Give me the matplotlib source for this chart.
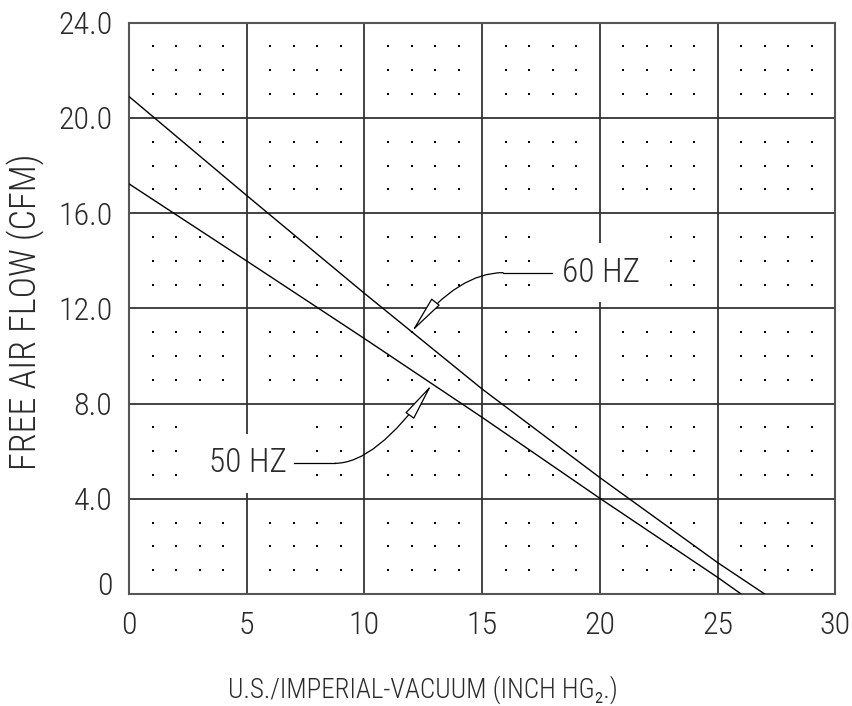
import matplotlib
matplotlib.use("Agg")
import matplotlib.pyplot as plt
from matplotlib import font_manager as fm
from matplotlib.transforms import ScaledTranslation

# ---------------- data ----------------
vac_60 = [0, 5, 10, 15, 20, 25, 27]
flow_60 = [20.9, 16.74, 12.63, 8.61, 4.89, 1.32, 0.0]
vac_50 = [0, 5, 10, 15, 20, 25, 26]
flow_50 = [17.23, 13.99, 10.73, 7.42, 4.02, 0.70, 0.0]

x_ticks = [0, 5, 10, 15, 20, 25, 30]
x_tick_labels = ["0", "5", "10", "15", "20", "25", "30"]
y_ticks = [0, 4, 8, 12, 16, 20, 24]
y_tick_labels = ["0", "4.0", "8.0", "12.0", "16.0", "20.0", "24.0"]

label_60 = "60 HZ"
label_50 = "50 HZ"
xlabel = "U.S./IMPERIAL-VACUUM (INCH HG\u2082.)"
ylabel = "FREE AIR FLOW (CFM)"

# ---------------- font selection ----------------
def pick_font():
    prefs = ["Roboto Condensed", "DejaVu Sans", "Roboto", "Lato", "Open Sans", "Inter", "Noto Sans"]
    def wnum(w):
        if isinstance(w, (int, float)):
            return w
        return {"ultralight": 200, "light": 300, "normal": 400, "regular": 400}.get(str(w).lower(), 400)
    for name in prefs:
        for f in fm.fontManager.ttflist:
            if f.name == name and f.style == "normal" and 200 <= wnum(f.weight) <= 300:
                return f.fname
    return None

fpath = pick_font()
def fp(size):
    if fpath:
        return fm.FontProperties(fname=fpath, size=size)
    return fm.FontProperties(family="DejaVu Sans", size=size)

TXT = "#2a2a2a"

# ---------------- figure ----------------
fig = plt.figure(figsize=(8.53, 7.06), dpi=100)
ax = fig.add_axes([0.1512, 0.1586, 0.9793 - 0.1512, 0.9679 - 0.1586])
ax.set_xlim(0, 30)
ax.set_ylim(0, 24)

# grid with gaps behind labels
vgaps = {5: (4.26, 6.71), 20: (12.26, 14.76)}
for xv in [5, 10, 15, 20, 25]:
    if xv in vgaps:
        g0, g1 = vgaps[xv]
        ax.vlines(xv, 0, g0, color="#222222", lw=1.2, zorder=1)
        ax.vlines(xv, g1, 24, color="#222222", lw=1.2, zorder=1)
    else:
        ax.vlines(xv, 0, 24, color="#222222", lw=1.2, zorder=1)
for yv in [4, 8, 12, 16, 20]:
    ax.hlines(yv, 0, 30, color="#333333", lw=1.3, zorder=1)

# dots
excl = [((2.5, 7.5), (4.5, 7.5)), ((17.5, 22.5), (12.5, 15.5))]
dx, dy = [], []
for xi in range(31):
    if xi % 5 == 0:
        continue
    for yi in range(25):
        if yi % 4 == 0:
            continue
        skip = any(a[0] < xi < a[1] and b[0] < yi < b[1] for a, b in excl)
        if not skip:
            dx.append(xi)
            dy.append(yi)
ax.scatter(dx, dy, s=2.5, c="black", marker="s", linewidths=0, zorder=2)

# curves
ax.plot(vac_60, flow_60, color="black", lw=1.0, zorder=3, solid_joinstyle="round")
ax.plot(vac_50, flow_50, color="black", lw=1.0, zorder=3, solid_joinstyle="round")

for s in ax.spines.values():
    s.set_color("#555555")
    s.set_linewidth(1.5)

# ticks
ax.set_xticks(x_ticks)
ax.set_xticklabels(x_tick_labels)
ax.set_yticks(y_ticks)
ax.set_yticklabels(y_tick_labels)
ax.tick_params(length=0, colors=TXT)
ax.tick_params(axis="x", pad=12)
ax.tick_params(axis="y", pad=12)
for lab in ax.get_xticklabels() + ax.get_yticklabels():
    lab.set_fontproperties(fp(23))
    lab.set_color(TXT)
ylabs = ax.get_yticklabels()
ylabs[0].set_transform(ylabs[0].get_transform() + ScaledTranslation(0, 11 / 100, fig.dpi_scale_trans))

# axis labels
ax.text(0.140, -0.168, xlabel, transform=ax.transAxes, ha="left", va="center",
        fontproperties=fp(19.5), color=TXT)
ax.text(-0.146, 0.494, ylabel, transform=ax.transAxes, ha="center", va="center",
        rotation=90, fontproperties=fp(26), color=TXT)

# annotations
arrow_kw = dict(arrowstyle="-|>,head_length=2.4,head_width=0.34", fc="white", ec="black",
                lw=0.9, shrinkA=0, shrinkB=0, mutation_scale=10)

# 60 HZ
ax.text(18.38, 13.5, label_60, ha="left", va="center", fontproperties=fp(24), color=TXT, zorder=5)
ax.plot([17.95, 15.89], [13.5, 13.5], color="black", lw=0.9, zorder=4)
ax.annotate("", xy=(12.01, 11.02), xytext=(15.89, 13.5),
            arrowprops=dict(connectionstyle="angle3,angleA=0,angleB=51.3", **arrow_kw), zorder=4)

# 50 HZ
ax.text(3.41, 5.49, label_50, ha="left", va="center", fontproperties=fp(24), color=TXT, zorder=5)
ax.plot([7.01, 8.75], [5.49, 5.49], color="black", lw=0.9, zorder=4)
ax.annotate("", xy=(12.86, 8.80), xytext=(8.75, 5.49),
            arrowprops=dict(connectionstyle="angle3,angleA=0,angleB=54.7", **arrow_kw), zorder=4)

fig.savefig("out.png", dpi=100)
